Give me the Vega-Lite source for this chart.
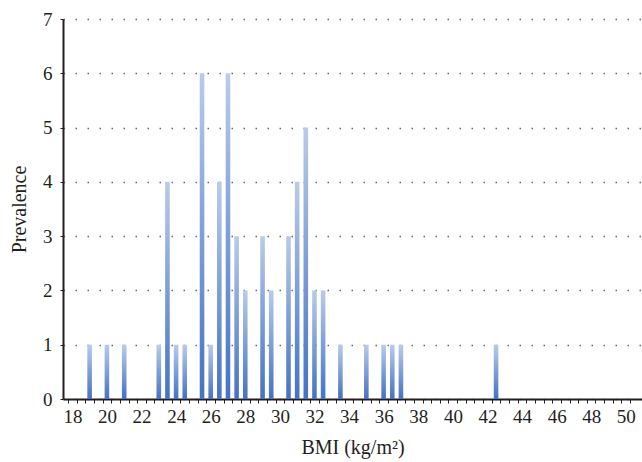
{
  "$schema": "https://vega.github.io/schema/vega-lite/v6.json",
  "autosize": "none",
  "width": 579,
  "height": 380,
  "padding": {"left": 63, "top": 19, "right": 0, "bottom": 63},
  "background": "white",
  "config": {
    "view": {"stroke": null},
    "font": "Liberation Serif",
    "axis": {"labelFont": "Liberation Serif", "titleFont": "Liberation Serif", "labelColor": "#231f20", "titleColor": "#231f20", "titleFontWeight": "normal", "labelFontSize": 19, "titleFontSize": 20}
  },
  "data": {
    "values": [
      {"bmi": 19.0, "n": 1},
      {"bmi": 20.0, "n": 1},
      {"bmi": 21.0, "n": 1},
      {"bmi": 23.0, "n": 1},
      {"bmi": 23.5, "n": 4},
      {"bmi": 24.0, "n": 1},
      {"bmi": 24.5, "n": 1},
      {"bmi": 25.5, "n": 6},
      {"bmi": 26.0, "n": 1},
      {"bmi": 26.5, "n": 4},
      {"bmi": 27.0, "n": 6},
      {"bmi": 27.5, "n": 3},
      {"bmi": 28.0, "n": 2},
      {"bmi": 29.0, "n": 3},
      {"bmi": 29.5, "n": 2},
      {"bmi": 30.5, "n": 3},
      {"bmi": 31.0, "n": 4},
      {"bmi": 31.5, "n": 5},
      {"bmi": 32.0, "n": 2},
      {"bmi": 32.5, "n": 2},
      {"bmi": 33.5, "n": 1},
      {"bmi": 35.0, "n": 1},
      {"bmi": 36.0, "n": 1},
      {"bmi": 36.5, "n": 1},
      {"bmi": 37.0, "n": 1},
      {"bmi": 42.5, "n": 1}
    ]
  },
  "mark": {
    "type": "bar",
    "width": 4.6,
    "color": {
      "gradient": "linear",
      "x1": 0, "y1": 0, "x2": 0, "y2": 1,
      "stops": [
        {"offset": 0, "color": "#bacbea"},
        {"offset": 1, "color": "#4472c4"}
      ]
    }
  },
  "encoding": {
    "x": {
      "field": "bmi",
      "type": "quantitative",
      "scale": {"domain": [17.75, 50.65], "nice": false, "zero": false},
      "axis": {
        "title": "BMI (kg/m²)",
        "values": [17.75,18.25,18.75,19.25,19.75,20.25,20.75,21.25,21.75,22.25,22.75,23.25,23.75,24.25,24.75,25.25,25.75,26.25,26.75,27.25,27.75,28.25,28.75,29.25,29.75,30.25,30.75,31.25,31.75,32.25,32.75,33.25,33.75,34.25,34.75,35.25,35.75,36.25,36.75,37.25,37.75,38.25,38.75,39.25,39.75,40.25,40.75,41.25,41.75,42.25,42.75,43.25,43.75,44.25,44.75,45.25,45.75,46.25,46.75,47.25,47.75,48.25,48.75,49.25,49.75,50.25],
        "labelExpr": "(datum.value + 0.25) % 2 === 0 ? format(datum.value + 0.25, 'd') : ''",
        "labelOffset": 4.4,
        "labelOverlap": false,
        "labelFlush": false,
        "labelBound": false,
        "labelPadding": 4,
        "tickSize": 4,
        "tickColor": "#231f20",
        "tickWidth": 1,
        "domainColor": "#231f20",
        "domainWidth": 2,
        "grid": false,
        "titlePadding": 11
      }
    },
    "y": {
      "field": "n",
      "type": "quantitative",
      "scale": {"domain": [0, 7], "nice": false},
      "axis": {
        "title": "Prevalence",
        "values": [0,1,2,3,4,5,6,7],
        "tickSize": 3,
        "tickColor": "#231f20",
        "domainColor": "#231f20",
        "domainWidth": 2,
        "grid": true,
        "gridColor": "#6b6b6b",
        "gridDash": [1.5, 10.5],
        "gridWidth": 1.3,
        "labelPadding": 8,
        "titlePadding": 13
      }
    }
  }
}
